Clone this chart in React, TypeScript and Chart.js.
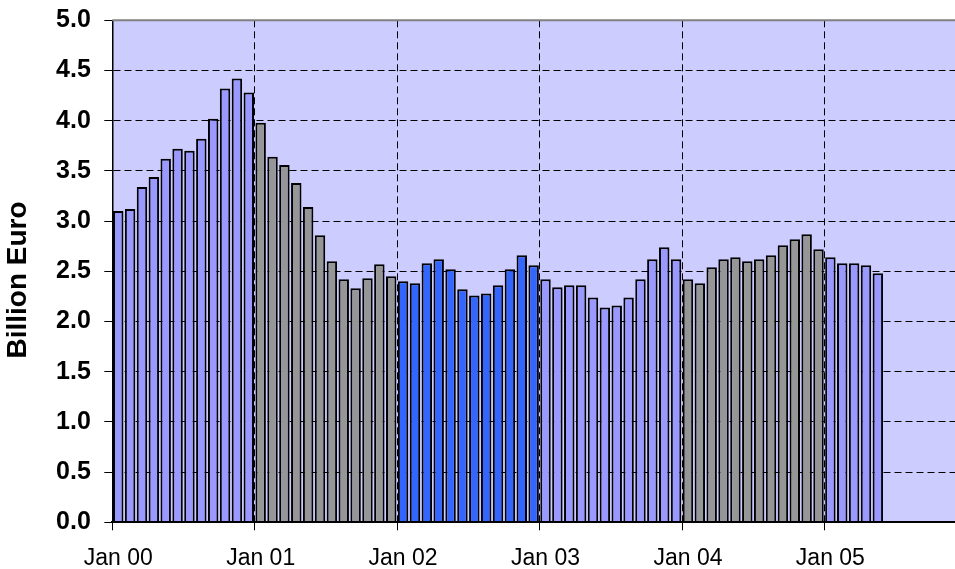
import { useEffect, useRef } from 'react';
import { Chart, registerables } from 'chart.js';

Chart.register(...registerables);

const FONT = '"Liberation Sans", Arial, Helvetica, sans-serif';

// Monthly values (billion euro), Jan 00 .. May 05
const values2000 = [3.10, 3.12, 3.34, 3.44, 3.62, 3.72, 3.70, 3.82, 4.02, 4.32, 4.42, 4.28];
const values2001 = [3.98, 3.64, 3.56, 3.38, 3.14, 2.86, 2.60, 2.42, 2.33, 2.43, 2.57, 2.45];
const values2002 = [2.40, 2.38, 2.58, 2.62, 2.52, 2.32, 2.26, 2.28, 2.36, 2.52, 2.66, 2.56];
const values2003 = [2.42, 2.34, 2.36, 2.36, 2.24, 2.14, 2.16, 2.24, 2.42, 2.62, 2.74, 2.62];
const values2004 = [2.42, 2.38, 2.54, 2.62, 2.64, 2.60, 2.62, 2.66, 2.76, 2.82, 2.87, 2.72];
const values2005 = [2.64, 2.58, 2.58, 2.56, 2.48];

const yearSeries = [values2000, values2001, values2002, values2003, values2004, values2005];
const yearColors = ['#9999FF', '#969696', '#3366FF', '#9999FF', '#969696', '#9999FF'];

const tickLabels = ['Jan 00', 'Jan 01', 'Jan 02', 'Jan 03', 'Jan 04', 'Jan 05'];
const tickMonths = [0, 12, 24, 36, 48, 60];
const axisMonths = 71;
const yTitle = 'Billion Euro';

export default function App() {
  const ref = useRef<HTMLCanvasElement | null>(null);

  useEffect(() => {
    if (!ref.current) return;
    const data: { x: number; y: number }[] = [];
    const colors: string[] = [];
    yearSeries.forEach((arr, yi) => {
      arr.forEach((v, mi) => {
        data.push({ x: yi * 12 + mi + 0.5, y: v });
        colors.push(yearColors[yi]);
      });
    });

    const plotDecor = {
      id: 'plotDecor',
      beforeDraw(chart: any) {
        const { ctx, chartArea } = chart;
        ctx.save();
        ctx.fillStyle = '#CCCCFF';
        ctx.fillRect(chartArea.left, chartArea.top, chartArea.right - chartArea.left, chartArea.bottom - chartArea.top);
        ctx.restore();
      },
      afterDraw(chart: any) {
        const { ctx, chartArea } = chart;
        ctx.save();
        ctx.strokeStyle = '#808080';
        ctx.lineWidth = 2;
        ctx.beginPath();
        ctx.moveTo(chartArea.left, chartArea.top);
        ctx.lineTo(chartArea.right, chartArea.top);
        ctx.stroke();
        ctx.translate(18, 280);
        ctx.rotate(-Math.PI / 2);
        ctx.fillStyle = '#000';
        ctx.font = `bold 28px ${FONT}`;
        ctx.textAlign = 'center';
        ctx.textBaseline = 'middle';
        ctx.fillText(yTitle, 0, 0);
        ctx.restore();
      },
    };

    const chart = new Chart(ref.current, {
      type: 'bar',
      data: {
        datasets: [
          {
            data: data as any,
            backgroundColor: colors,
            borderColor: '#000000',
            borderWidth: 2,
            barPercentage: 0.88,
            categoryPercentage: 1,
          },
        ],
      },
      options: {
        animation: false,
        responsive: false,
        maintainAspectRatio: false,
        layout: { padding: { top: 20.3, left: 0, right: 0, bottom: 0 } },
        plugins: { legend: { display: false }, tooltip: { enabled: false } },
        scales: {
          x: {
            type: 'linear',
            min: 0,
            max: axisMonths,
            offset: false,
            afterBuildTicks: (s: any) => {
              s.ticks = tickMonths.map((v) => ({ value: v }));
            },
            afterFit: (s: any) => {
              s.height = 46.7;
              s.paddingLeft = 0;
              s.paddingRight = 0;
            },
            grid: {
              offset: false,
              color: '#000',
              lineWidth: 1,
              drawTicks: true,
              tickLength: 8,
              tickColor: '#000',
              tickWidth: 1,
              tickBorderDash: [],
            },
            border: { display: true, color: '#000', width: 2, dash: [7, 4], z: 1 },
            ticks: {
              autoSkip: false,
              maxRotation: 0,
              minRotation: 0,
              labelOffset: 5.93,
              padding: 15,
              color: '#000',
              font: { family: FONT, size: 23 },
              callback: (v: any) => {
                const i = tickMonths.indexOf(Number(v));
                return i >= 0 ? tickLabels[i] : '';
              },
            },
          },
          y: {
            min: 0,
            max: 5,
            afterFit: (s: any) => {
              s.width = 112.3;
              s.paddingTop = 0;
              s.paddingBottom = 0;
            },
            grid: {
              color: '#000',
              lineWidth: 1,
              drawTicks: true,
              tickLength: 8,
              tickColor: '#000',
              tickWidth: 1,
              tickBorderDash: [],
            },
            border: { display: true, color: '#000', width: 1.5, dash: [7, 4], z: 1 },
            ticks: {
              stepSize: 0.5,
              padding: 13.5,
              color: '#000',
              font: { family: FONT, size: 25, weight: 'bold' },
              callback: (v: any) => Number(v).toFixed(1),
            },
          },
        },
      } as any,
      plugins: [plotDecor],
    });

    return () => chart.destroy();
  }, []);

  return (
    <div style={{ position: 'fixed', left: 0, top: 0, width: 955, height: 569, background: '#fff' }}>
      <canvas ref={ref} width={955} height={569} style={{ display: 'block', width: 955, height: 569 }} />
    </div>
  );
}
